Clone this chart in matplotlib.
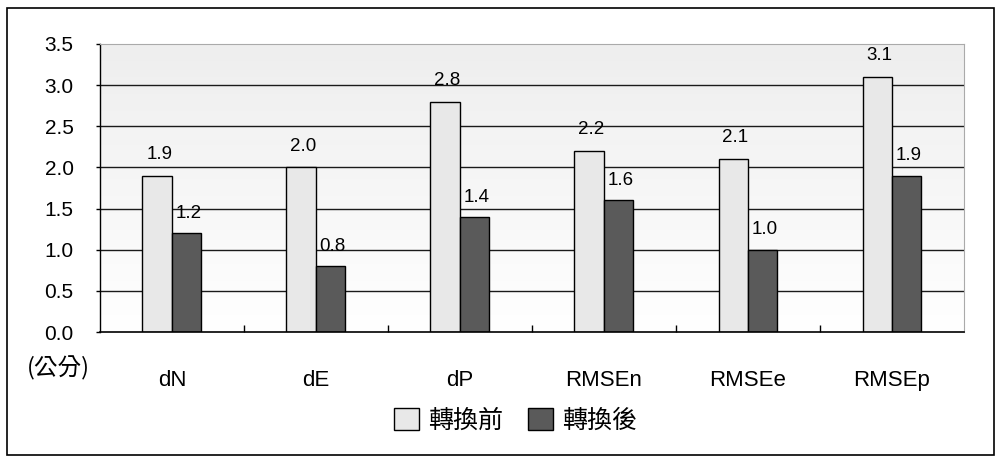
import numpy as np
import matplotlib.pyplot as plt
from matplotlib.patches import Rectangle
from matplotlib.colors import LinearSegmentedColormap

plt.rcParams['font.family'] = ['Liberation Sans', 'Noto Sans CJK TC', 'DejaVu Sans']

# data
categories = ["dN", "dE", "dP", "RMSEn", "RMSEe", "RMSEp"]
before = [1.9, 2.0, 2.8, 2.2, 2.1, 3.1]
after = [1.2, 0.8, 1.4, 1.6, 1.0, 1.9]
series_names = ["轉換前", "轉換後"]
yticks = [0.0, 0.5, 1.0, 1.5, 2.0, 2.5, 3.0, 3.5]

LIGHT = "#e8e8e8"
DARK = "#5a5a5a"
CJK = ['Noto Sans CJK TC', 'DejaVu Sans']

fig = plt.figure(figsize=(9.99, 4.58), dpi=100)
# outer frame
fig.patches.append(Rectangle((0.007, 0.006), 0.988, 0.977, transform=fig.transFigure,
                             fill=False, edgecolor="black", linewidth=1.2))

ax = fig.add_axes([0.1001, 0.275, 0.8649, 0.629])

x = np.arange(len(categories))
w = 0.205
ax.set_xlim(-0.5, len(categories) - 0.5)
ax.set_ylim(0, 3.5)

# gradient background
grad = np.linspace(0, 1, 256).reshape(-1, 1)
ax.imshow(grad, extent=[-0.5, len(categories) - 0.5, 0, 3.5], aspect='auto',
          cmap=LinearSegmentedColormap.from_list("g", ["#ffffff", "#eeeeee"]),
          origin='lower', zorder=0)

for yv in yticks[1:-1]:
    ax.axhline(yv, color="#1a1a1a", linewidth=1.0, zorder=1)

b1 = ax.bar(x - w / 2, before, w, color=LIGHT, edgecolor="black", linewidth=1.0,
            zorder=2, label=series_names[0])
b2 = ax.bar(x + w / 2, after, w * 0.97, color=DARK, edgecolor="black", linewidth=1.0,
            zorder=2, label=series_names[1])

for xi, v in zip(x, before):
    ax.text(xi - w / 2 + 0.015, v + 0.26, f"{v:.1f}", ha="center", va="center", fontsize=13.5)
for xi, v in zip(x, after):
    ax.text(xi + w / 2 + 0.01, v + 0.24, f"{v:.1f}", ha="center", va="center", fontsize=13.5)

ax.set_yticks(yticks)
ax.set_yticklabels([f"{t:.1f}" for t in yticks], fontsize=15)
ax.set_xticks(x)
ax.set_xticklabels(categories, fontsize=16)
ax.tick_params(axis='x', length=0, pad=27)
ax.set_xticks(np.arange(0.5, len(categories) - 0.5, 1), minor=True)
ax.tick_params(axis='x', which='minor', direction='in', length=5, width=1)
ax.tick_params(axis='y', direction='out', length=3, width=1, pad=16)

ax.spines['top'].set_color("#aaaaaa")
ax.spines['right'].set_color("#aaaaaa")
ax.spines['left'].set_linewidth(1.0)
ax.spines['bottom'].set_linewidth(1.2)

fig.text(0.058, 0.196, "(公分)", fontsize=17, ha="center", va="center", family=CJK)

leg = fig.legend(handles=[b1, b2], labels=series_names, loc="center", bbox_to_anchor=(0.516, 0.082),
                 ncol=2, frameon=False, handlelength=1.0, handleheight=1.0,
                 handletextpad=0.35, columnspacing=1.0,
                 prop={'family': CJK, 'size': 18})

fig.savefig("out.png", dpi=100)
